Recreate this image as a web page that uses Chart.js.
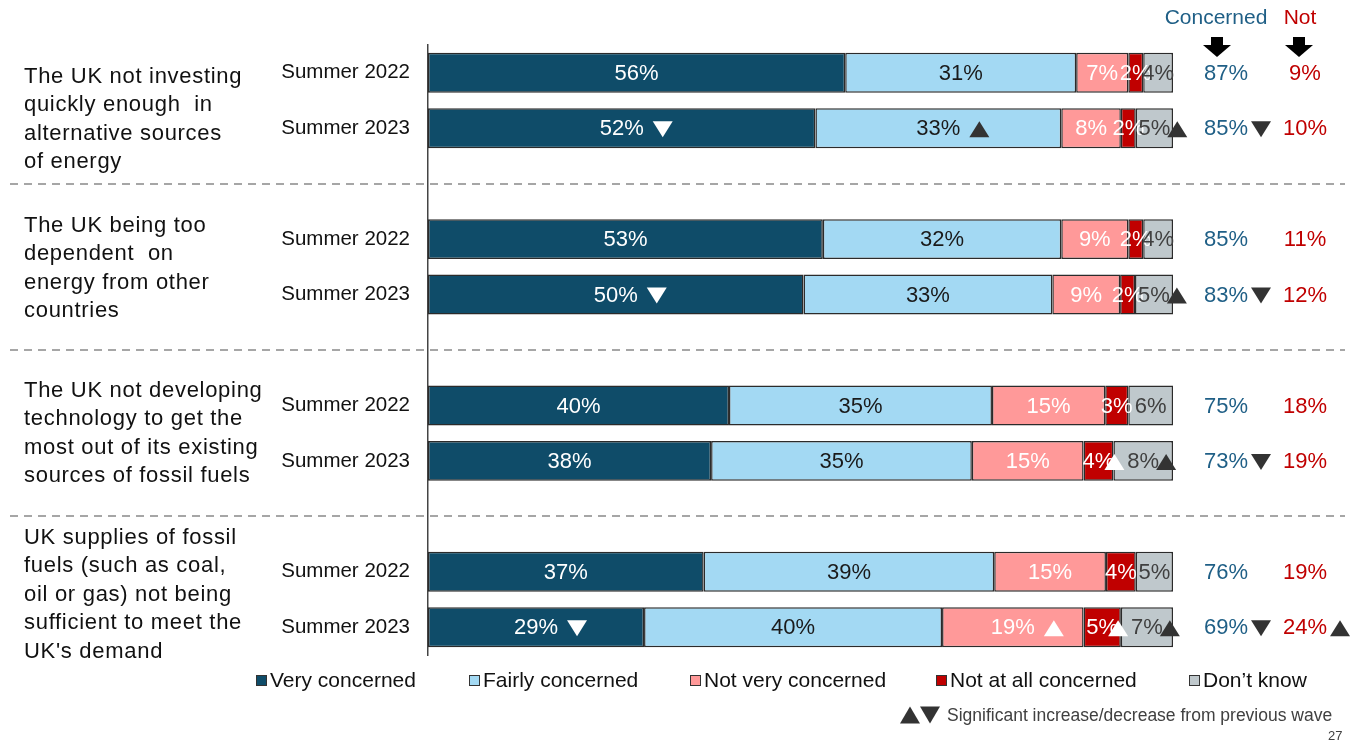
<!DOCTYPE html>
<html>
<head>
<meta charset="utf-8">
<script src="https://cdn.jsdelivr.net/npm/chart.js@4.4.1/dist/chart.umd.min.js"></script>
<style>
  body { margin: 0; background: #fff; }
  canvas { display: block; }
</style>
</head>
<body>
<canvas id="chart" width="1364" height="742"></canvas>
<script>
// rows: 2 per topic, blank spacer rows between topics
const rowLabels = ["Summer 2022", "Summer 2023", "", "Summer 2022", "Summer 2023", "", "Summer 2022", "Summer 2023", "", "Summer 2022", "Summer 2023"];

const topics = [
    ["The UK not investing", "quickly enough  in", "alternative sources", "of energy"],
    ["The UK being too", "dependent  on", "energy from other", "countries"],
    ["The UK not developing", "technology to get the", "most out of its existing", "sources of fossil fuels"],
    ["UK supplies of fossil", "fuels (such as coal,", "oil or gas) not being", "sufficient to meet the", "UK's demand"]
];

const veryConcerned   = [56, 52, null, 53, 50.4, null, 40.4, 38, null, 37, 29];
const fairlyConcerned = [31, 33, null, 32, 33.4, null, 35.3, 35, null, 39, 40];
const notVery         = [7, 8, null, 9, 9.1, null, 15.2, 15, null, 15, 19];
const notAtAll        = [2, 2, null, 2, 2.0, null, 3.1, 4, null, 4, 5];
const dontKnow        = [4, 5, null, 4, 5.1, null, 6.0, 8, null, 5, 7];

const totalConcerned = [87, 85, null, 85, 83, null, 75, 73, null, 76, 69];
const totalNot       = [9, 10, null, 11, 12, null, 18, 19, null, 19, 24];

// significance vs previous wave: "up" / "down"
const sigVery      = [null, "down", null, null, "down", null, null, null, null, null, "down"];
const sigFairly    = [null, "up", null, null, null, null, null, null, null, null, null];
const sigNotVery   = [null, null, null, null, null, null, null, null, null, null, "up"];
const sigNotAtAll  = [null, null, null, null, null, null, null, "up", null, null, "up"];
const sigDontKnow  = [null, "up", null, null, "up", null, null, "up", null, null, "up"];
const sigConcerned = [null, "down", null, null, "down", null, null, "down", null, null, "down"];
const sigNot       = [null, null, null, null, null, null, null, null, null, null, "up"];

const seriesNames = ["Very concerned", "Fairly concerned", "Not very concerned", "Not at all concerned", "Don\u2019t know"];
const colors = ["#0f4c69", "#a3d9f3", "#ff9999", "#c00000", "#bfc8cc"];
const textColors = ["#ffffff", "#1a1a1a", "#ffffff", "#ffffff", "#404040"];
const triColors = ["#ffffff", "#333333", "#ffffff", "#ffffff", "#333333"];
const smallGap = [-4, -4, -4, -10, -3];
const sigs = [sigVery, sigFairly, sigNotVery, sigNotAtAll, sigDontKnow];

const FONT = "Arial, 'Liberation Sans', sans-serif";

function tri(ctx, x, y, w, h, dir, color) {
    ctx.fillStyle = color;
    ctx.beginPath();
    if (dir === "up") {
        ctx.moveTo(x, y + h / 2);
        ctx.lineTo(x + w, y + h / 2);
        ctx.lineTo(x + w / 2, y - h / 2);
    } else {
        ctx.moveTo(x, y - h / 2);
        ctx.lineTo(x + w, y - h / 2);
        ctx.lineTo(x + w / 2, y + h / 2);
    }
    ctx.closePath();
    ctx.fill();
}

const barLabels = {
    id: "barLabels",
    afterDatasetsDraw(chart) {
        const ctx = chart.ctx;
        ctx.save();
        ctx.font = "22px " + FONT;
        ctx.textBaseline = "middle";
        ctx.textAlign = "center";
        chart.data.datasets.forEach((ds, di) => {
            const meta = chart.getDatasetMeta(di);
            meta.data.forEach((el, i) => {
                const v = ds.data[i];
                if (v === null) return;
                const cx = (el.x + el.base) / 2;
                const txt = Math.round(v) + "%";
                ctx.fillStyle = textColors[di];
                ctx.fillText(txt, cx, el.y + 1);
                const s = sigs[di][i];
                if (s) {
                    const w = ctx.measureText(txt).width;
                    const gap = v >= 10 ? 9 : smallGap[di];
                    tri(ctx, cx + w / 2 + gap, el.y + 1, 20, 16, s, triColors[di]);
                }
            });
        });
        ctx.restore();
    }
};

const extras = {
    id: "extras",
    afterDraw(chart) {
        const ctx = chart.ctx;
        const y = chart.scales.y;
        ctx.save();

        // dashed separators between topics
        ctx.strokeStyle = "#a6a6a6";
        ctx.lineWidth = 2;
        ctx.setLineDash([8, 6]);
        [2, 5, 8].forEach(i => {
            const py = Math.round(y.getPixelForValue(i));
            ctx.beginPath();
            ctx.moveTo(10, py);
            ctx.lineTo(1345, py);
            ctx.stroke();
        });
        ctx.setLineDash([]);

        // topic labels
        ctx.fillStyle = "#111";
        ctx.font = "22px " + FONT;
        ctx.letterSpacing = "0.7px";
        ctx.textAlign = "left";
        ctx.textBaseline = "middle";
        const firstLine = [77, 226, 391, 538];
        topics.forEach((lines, g) => {
            lines.forEach((t, k) => ctx.fillText(t, 24, firstLine[g] + k * 28.4));
        });
        ctx.letterSpacing = "0px";

        // headers with arrows
        ctx.textAlign = "center";
        ctx.font = "21px " + FONT;
        ctx.fillStyle = "#1f5f86";
        ctx.fillText("Concerned", 1216, 18);
        ctx.fillStyle = "#c00000";
        ctx.fillText("Not", 1300, 18);
        [1217, 1299].forEach(ax => {
            ctx.fillStyle = "#000";
            ctx.fillRect(ax - 6, 37, 12, 9);
            ctx.beginPath();
            ctx.moveTo(ax - 14, 45);
            ctx.lineTo(ax + 14, 45);
            ctx.lineTo(ax, 57);
            ctx.closePath();
            ctx.fill();
        });

        // net columns
        ctx.font = "22px " + FONT;
        rowLabels.forEach((lab, i) => {
            if (totalConcerned[i] === null) return;
            const py = y.getPixelForValue(i) + 1;
            const t1 = totalConcerned[i] + "%";
            ctx.fillStyle = "#1f5f86";
            ctx.fillText(t1, 1226, py);
            if (sigConcerned[i]) tri(ctx, 1226 + ctx.measureText(t1).width / 2 + 3, py, 20, 16, sigConcerned[i], "#333");
            const t2 = totalNot[i] + "%";
            ctx.fillStyle = "#c00000";
            ctx.fillText(t2, 1305, py);
            if (sigNot[i]) tri(ctx, 1305 + ctx.measureText(t2).width / 2 + 3, py, 20, 16, sigNot[i], "#333");
        });

        // legend
        const legX = [256, 469, 690, 936, 1189];
        ctx.font = "21px " + FONT;
        ctx.textAlign = "left";
        seriesNames.forEach((n, k) => {
            ctx.fillStyle = colors[k];
            ctx.fillRect(legX[k], 675, 11, 11);
            ctx.strokeStyle = "#333";
            ctx.lineWidth = 1;
            ctx.strokeRect(legX[k] + 0.5, 675.5, 10, 10);
            ctx.fillStyle = "#111";
            ctx.fillText(n, legX[k] + 14, 681);
        });

        // footnote
        tri(ctx, 900, 715, 20, 17, "up", "#333");
        tri(ctx, 920, 715, 20, 17, "down", "#333");
        ctx.fillStyle = "#404040";
        ctx.font = "17.5px " + FONT;
        ctx.fillText("Significant increase/decrease from previous wave", 947, 716);
        ctx.font = "13px " + FONT;
        ctx.fillText("27", 1328, 736);

        ctx.restore();
    }
};

new Chart(document.getElementById("chart"), {
    type: "bar",
    data: {
        labels: rowLabels,
        datasets: [veryConcerned, fairlyConcerned, notVery, notAtAll, dontKnow].map((d, k) => ({
            label: seriesNames[k],
            data: d,
            backgroundColor: colors[k],
            borderColor: "#2b2b2b",
            borderWidth: 1.5,
            borderSkipped: false,
            barPercentage: 0.72,
            categoryPercentage: 1
        }))
    },
    options: {
        indexAxis: "y",
        responsive: false,
        animation: false,
        layout: { padding: { top: 45, bottom: 87, right: 191, left: 0 } },
        plugins: { legend: { display: false }, tooltip: { enabled: false } },
        scales: {
            x: { stacked: true, min: 0, max: 100, display: false },
            y: {
                stacked: true,
                afterFit(scale) { scale.width = 428; },
                grid: { display: false, drawTicks: false },
                border: { display: true, color: "#444", width: 1.5 },
                ticks: { color: "#111", font: { size: 20.5, family: FONT }, padding: 18, autoSkip: false }
            }
        }
    },
    plugins: [barLabels, extras]
});
</script>
</body>
</html>
